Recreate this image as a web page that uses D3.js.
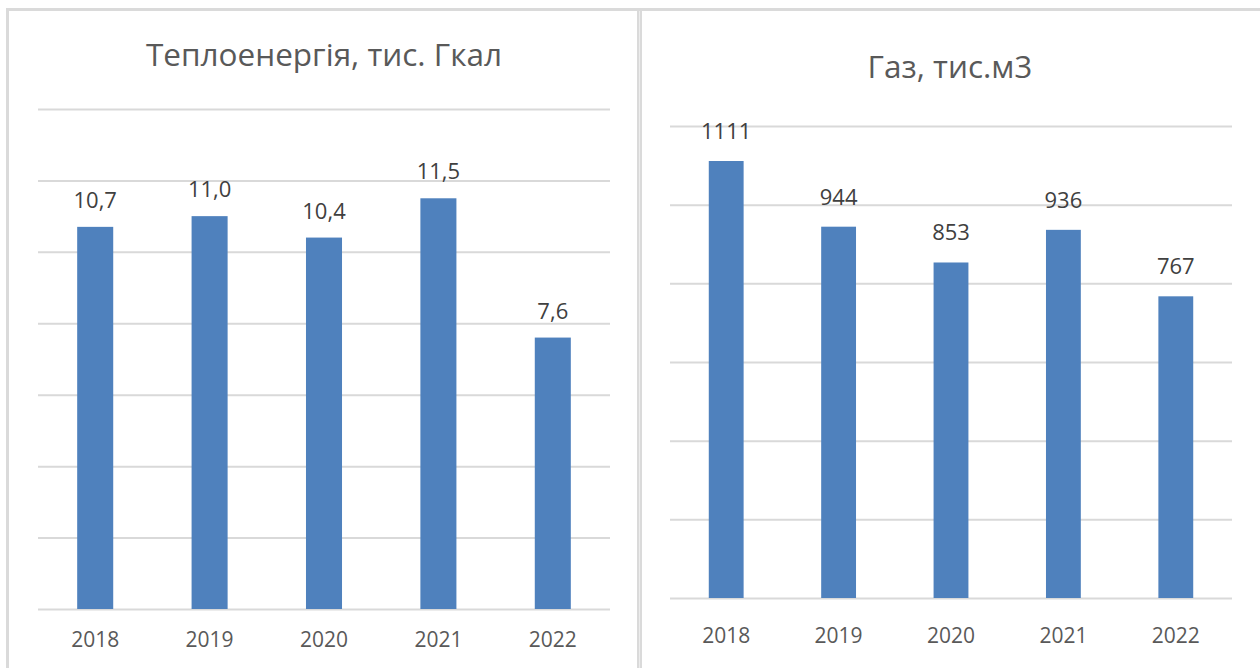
<!DOCTYPE html>
<html>
<head>
<meta charset="utf-8">
<script src="https://cdn.jsdelivr.net/npm/d3@7"></script>
<style>
  html, body { margin: 0; padding: 0; background: #ffffff; }
  svg { display: block; }
  text { font-family: "Open Sans", "Liberation Sans", sans-serif; }
</style>
</head>
<body>
<svg id="chart" width="1260" height="668"></svg>
<script>
// ---- data ----
const years = ["2018", "2019", "2020", "2021", "2022"];
const heatValues = [10.7, 11.0, 10.4, 11.5, 7.6];
const heatLabels = ["10,7", "11,0", "10,4", "11,5", "7,6"];
const heatTicks = [0, 2, 4, 6, 8, 10, 12, 14];
const heatTitle = "Теплоенергія, тис. Гкал";

const gasValues = [1111, 944, 853, 936, 767];
const gasLabels = ["1111", "944", "853", "936", "767"];
const gasTicks = [0, 200, 400, 600, 800, 1000, 1200];
const gasTitle = "Газ, тис.м3";

// ---- drawing ----
const svg = d3.select("#chart");
const borderColor = "#dadada";
const gridColor = "#d9d9d9";
const barColor = "#4f81bd";

// panel frames
svg.append("rect").attr("x", 6).attr("y", 8).attr("width", 1254).attr("height", 3).attr("fill", borderColor);
svg.append("rect").attr("x", 6).attr("y", 8).attr("width", 3).attr("height", 660).attr("fill", borderColor);
svg.append("rect").attr("x", 637).attr("y", 8).attr("width", 5).attr("height", 660).attr("fill", borderColor);
svg.append("rect").attr("x", 639).attr("y", 11).attr("width", 1).attr("height", 657).attr("fill", "#ececec");

function panel(cfg) {
  const g = svg.append("g");
  const x = d3.scaleBand().domain(years).range(cfg.xRange).paddingInner(cfg.pad).paddingOuter(cfg.pad / 2);
  const y = d3.scaleLinear().domain([0, d3.max(cfg.ticks)]).range(cfg.yRange);

  // gridlines via axis
  const grid = g.append("g")
    .attr("transform", `translate(${cfg.xRange[0]},0)`)
    .call(d3.axisLeft(y).tickValues(cfg.ticks).tickSize(-(cfg.xRange[1] - cfg.xRange[0])).tickFormat(""));
  grid.select(".domain").remove();
  grid.selectAll("line").attr("stroke", gridColor).attr("stroke-width", 2);

  // bars
  g.selectAll("rect.bar").data(cfg.values).join("rect")
    .attr("class", "bar")
    .attr("x", (d, i) => x(years[i]))
    .attr("width", x.bandwidth())
    .attr("y", d => y(d))
    .attr("height", d => y(0) - y(d))
    .attr("fill", barColor);

  // data labels
  g.selectAll("text.lbl").data(cfg.values).join("text")
    .attr("class", "lbl")
    .attr("x", (d, i) => x(years[i]) + x.bandwidth() / 2)
    .attr("y", d => y(d) - cfg.labelOffset)
    .attr("text-anchor", "middle")
    .attr("font-size", cfg.labelSize)
    .attr("fill", "#404040")
    .text((d, i) => cfg.labels[i]);

  // x axis labels
  const xa = g.append("g")
    .attr("transform", `translate(0,${cfg.yRange[0]})`)
    .call(d3.axisBottom(x).tickSize(0).tickPadding(cfg.yearPad));
  xa.select(".domain").remove();
  xa.selectAll("text")
    .attr("font-size", cfg.yearSize)
    .attr("fill", "#595959")
    .style("font-family", '"Open Sans", "Liberation Sans", sans-serif');

  // title
  g.append("text")
    .attr("x", cfg.titleX)
    .attr("y", cfg.titleY)
    .attr("text-anchor", "middle")
    .attr("font-size", cfg.titleSize)
    .attr("fill", "#595959")
    .text(cfg.title);
}

panel({
  values: heatValues, labels: heatLabels, ticks: heatTicks, title: heatTitle,
  xRange: [38, 610], yRange: [609, 109], pad: 0.685,
  labelOffset: 19, labelSize: 22, yearSize: 21, yearPad: 23,
  titleX: 324, titleY: 66, titleSize: 31.5
});

panel({
  values: gasValues, labels: gasLabels, ticks: gasTicks, title: gasTitle,
  xRange: [670, 1232], yRange: [598, 126], pad: 0.69,
  labelOffset: 22, labelSize: 22, yearSize: 21, yearPad: 30,
  titleX: 950, titleY: 78, titleSize: 31.5
});
</script>
</body>
</html>
